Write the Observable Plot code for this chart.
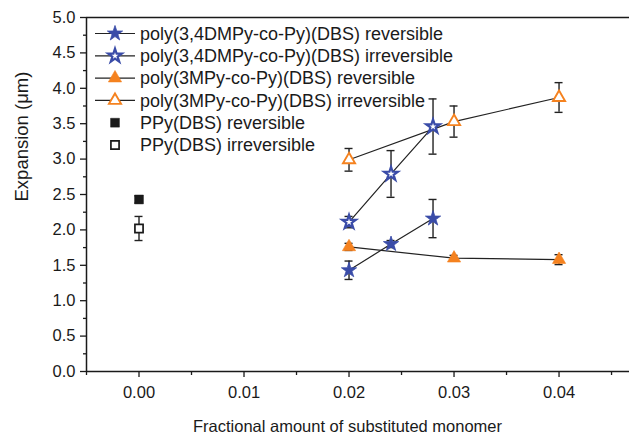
<!DOCTYPE html>
<html><head><meta charset="utf-8">
<script src="https://cdn.jsdelivr.net/npm/d3@7"></script>
<script src="https://cdn.jsdelivr.net/npm/@observablehq/plot@0.6"></script>
<style>
body{margin:0;background:#fff;}
#wrap{position:relative;width:629px;height:435px;}
</style></head><body><div id="wrap"></div>
<script>
// ---- data ----
const xDM = [0.02, 0.024, 0.028];
const dmRev = [1.43, 1.80, 2.16];
const dmRevErr = [0.13, 0.05, 0.27];
const dmIrr = [2.11, 2.79, 3.46];
const dmIrrErr = [0.08, 0.33, 0.39];
const xM = [0.02, 0.03, 0.04];
const mRev = [1.76, 1.60, 1.58];
const mRevErr = [0.05, 0.04, 0.07];
const mIrr = [2.99, 3.53, 3.87];
const mIrrErr = [0.16, 0.22, 0.21];
const xPPy = [0];
const ppyRev = [2.43];
const ppyRevErr = [0.05];
const ppyIrr = [2.02];
const ppyIrrErr = [0.17];

const seriesNames = [
  "poly(3,4DMPy-co-Py)(DBS) reversible",
  "poly(3,4DMPy-co-Py)(DBS) irreversible",
  "poly(3MPy-co-Py)(DBS) reversible",
  "poly(3MPy-co-Py)(DBS) irreversible",
  "PPy(DBS) reversible",
  "PPy(DBS) irreversible"
];
const yMajor = [0, 0.5, 1, 1.5, 2, 2.5, 3, 3.5, 4, 4.5, 5];
const yMinor = [0.25, 0.75, 1.25, 1.75, 2.25, 2.75, 3.25, 3.75, 4.25, 4.75];
const xMajor = [0, 0.01, 0.02, 0.03, 0.04];
const xMinor = [-0.005, 0.005, 0.015, 0.025, 0.035, 0.045];
const xLabel = "Fractional amount of substituted monomer";
const yLabel = "Expansion (μm)";

// ---- styles ----
const BLUE = "#3a4ca8", ORANGE = "#f5821f", INK = "#1a1a1a";
const styles = [
  {symbol: "star", fill: BLUE, stroke: BLUE, sw: 0.8, r: 4.8, line: true},
  {symbol: "star", fill: "white", stroke: BLUE, sw: 2.2, r: 4.3, line: true},
  {symbol: "triangle", fill: ORANGE, stroke: ORANGE, sw: 0.6, r: 4.9, line: true},
  {symbol: "triangle", fill: "white", stroke: ORANGE, sw: 1.9, r: 4.5, line: true},
  {symbol: "square", fill: INK, stroke: INK, sw: 0.5, r: 5.0, line: false},
  {symbol: "square", fill: "white", stroke: INK, sw: 1.7, r: 4.6, line: false}
];
const build = (xs, ys, es, s) => xs.map((x, i) => ({series: s, x, y: ys[i], err: es[i]}));
const groups = [
  build(xDM, dmRev, dmRevErr, 0),
  build(xDM, dmIrr, dmIrrErr, 1),
  build(xM, mRev, mRevErr, 2),
  build(xM, mIrr, mIrrErr, 3),
  build(xPPy, ppyRev, ppyRevErr, 4),
  build(xPPy, ppyIrr, ppyIrrErr, 5)
];
const all = groups.flat();
const lined = groups.filter((g, i) => styles[i].line).flat();

const font = "Liberation Sans, Arial, sans-serif";
const plot = Plot.plot({
  width: 629, height: 435,
  marginLeft: 86, marginTop: 17, marginBottom: 64, marginRight: 0,
  style: {fontFamily: font, fontSize: "16px", color: INK, background: "#fff", overflow: "visible"},
  x: {domain: [-0.005, 0.04671]},
  y: {domain: [0, 5]},
  marks: [
    Plot.ruleY([5], {stroke: INK, strokeWidth: 1.5}),
    Plot.ruleY([0], {stroke: INK, strokeWidth: 1.5}),
    Plot.ruleX([-0.005], {stroke: INK, strokeWidth: 1.5}),
    Plot.axisY({ticks: yMajor, tickFormat: d3.format(".1f"), tickSize: 6, tickPadding: 5, label: null, stroke: INK, strokeWidth: 1.3, fill: INK, fontSize: 16.5}),
    Plot.axisY({ticks: yMinor, tickFormat: () => "", tickSize: 3, label: null, stroke: INK, strokeWidth: 1.3}),
    Plot.axisX({ticks: xMajor, tickFormat: d3.format(".2f"), tickSize: 6, tickPadding: 9, label: null, stroke: INK, strokeWidth: 1.3, fill: INK, fontSize: 16.5}),
    Plot.axisX({ticks: xMinor, tickFormat: () => "", tickSize: 4, label: null, stroke: INK, strokeWidth: 1.3}),
    Plot.text([yLabel], {frameAnchor: "left", text: d => d, rotate: -90, dx: -64, dy: 7, fontSize: 18.5, fill: INK, lineAnchor: "middle"}),
    Plot.text([xLabel], {frameAnchor: "bottom", text: d => d, dx: -10.5, dy: 55, fontSize: 16.5, fill: INK, lineAnchor: "middle"}),
    Plot.line(lined, {x: "x", y: "y", z: "series", stroke: "#222", strokeWidth: 1.2}),
    Plot.ruleX(all, {x: "x", y1: d => d.y - d.err, y2: d => d.y + d.err, stroke: "#222", strokeWidth: 1.4}),
    Plot.ruleY(all, {y: d => d.y + d.err, x1: "x", x2: "x", insetLeft: -4, insetRight: -4, stroke: "#222", strokeWidth: 1.4}),
    Plot.ruleY(all, {y: d => d.y - d.err, x1: "x", x2: "x", insetLeft: -4, insetRight: -4, stroke: "#222", strokeWidth: 1.4}),
    ...groups.map((g, i) => Plot.dot(g, {x: "x", y: "y", symbol: styles[i].symbol, r: styles[i].r, fill: styles[i].fill, stroke: styles[i].stroke, strokeWidth: styles[i].sw}))
  ]
});
document.getElementById("wrap").appendChild(plot);

// ---- legend (inside the frame, top-left) ----
const svg = d3.select(plot);
const symMap = {star: d3.symbolStar, triangle: d3.symbolTriangle, square: d3.symbolSquare};
const lg = svg.append("g").attr("font-family", font).attr("font-size", 18).attr("fill", INK).attr("text-anchor", "start");
seriesNames.forEach((name, i) => {
  const s = styles[i];
  const row = lg.append("g").attr("transform", `translate(0,${33.5 + i * 22.3})`);
  if (s.line) row.append("line").attr("x1", 95).attr("x2", 135).attr("y1", 0).attr("y2", 0).attr("stroke", "#222").attr("stroke-width", 1.2);
  row.append("path").attr("transform", "translate(115,0)")
    .attr("d", d3.symbol(symMap[s.symbol], Math.PI * s.r * s.r)())
    .attr("fill", s.fill).attr("stroke", s.stroke).attr("stroke-width", s.sw);
  row.append("text").attr("x", 140).attr("y", 0).attr("dy", "0.35em").attr("text-anchor", "start").text(name);
});
</script></body></html>
